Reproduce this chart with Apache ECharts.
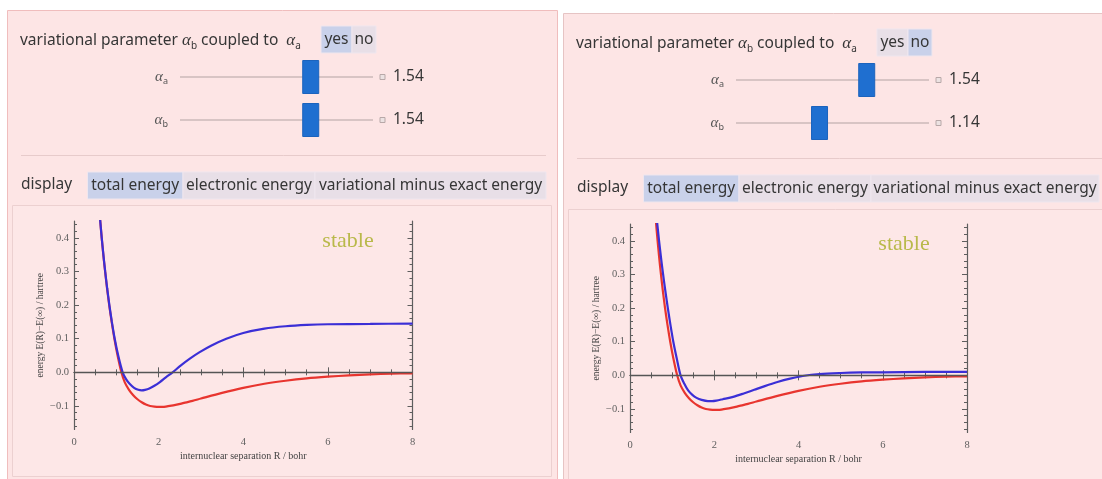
<!DOCTYPE html>
<html><head><meta charset="utf-8">
<script src="https://cdn.jsdelivr.net/npm/echarts@6/dist/echarts.min.js"></script>
<style>html,body{margin:0;padding:0;background:#fff}#c{width:1102px;height:479px}</style>
</head><body><div id="c"></div><script>
// ---------- data ----------
const xTicks = [0, 2, 4, 6, 8];
const yTicks = [-0.1, 0.0, 0.1, 0.2, 0.3, 0.4];
const xTitle = 'internuclear separation R / bohr';
const yTitle = 'energy E(R)\u2212E(\u221e) / hartree';
const statusText = 'stable';

// exact energy (red), same in both panels
const exactR = [0.58,0.62,0.655,0.693,0.735,0.781,0.832,0.89,0.955,1.03,1.12,1.2,1.3,1.4,1.5,1.6,1.7,1.8,1.9,2.0,2.1,2.2,2.4,2.6,2.8,3.0,3.5,4.0,4.5,5.0,5.5,6.0,6.5,7.0,7.5,8.0];
const exactE = [0.51,0.45,0.40,0.35,0.30,0.25,0.20,0.15,0.10,0.05,0.0,-0.030,-0.052,-0.068,-0.080,-0.089,-0.096,-0.100,-0.102,-0.103,-0.103,-0.101,-0.097,-0.091,-0.085,-0.078,-0.061,-0.046,-0.034,-0.025,-0.018,-0.013,-0.009,-0.006,-0.004,-0.003];

// variational energy (blue), left panel: alpha_a = alpha_b = 1.54
const varLeftR = [0.58,0.62,0.655,0.694,0.737,0.784,0.836,0.895,0.962,1.045,1.15,1.23,1.32,1.42,1.52,1.6,1.68,1.78,1.9,2.03,2.17,2.33,2.52,2.73,2.97,3.25,3.6,4.0,4.5,5.0,5.5,6.0,7.0,8.0];
const varLeftE = [0.51,0.45,0.40,0.35,0.30,0.25,0.20,0.15,0.10,0.05,0.0,-0.020,-0.035,-0.046,-0.052,-0.0535,-0.052,-0.048,-0.040,-0.029,-0.015,0.0,0.020,0.040,0.060,0.080,0.100,0.117,0.130,0.137,0.141,0.143,0.144,0.145];

// variational energy (blue), right panel: alpha_a = 1.54, alpha_b = 1.14
const varRightR = [0.61,0.648,0.690,0.736,0.786,0.840,0.898,0.960,1.028,1.11,1.20,1.29,1.38,1.48,1.58,1.7,1.85,1.95,2.05,2.2,2.45,2.7,2.95,3.2,3.5,3.8,4.1,4.5,5.0,5.5,6.0,7.0,8.0];
const varRightE = [0.50,0.45,0.40,0.35,0.30,0.25,0.20,0.15,0.10,0.05,0.0,-0.025,-0.045,-0.058,-0.067,-0.073,-0.0765,-0.0765,-0.075,-0.071,-0.064,-0.054,-0.043,-0.032,-0.020,-0.010,-0.002,0.004,0.007,0.0085,0.009,0.010,0.010];

// controls
const coupledChoice = ['yes', 'no'];
const coupledSelected = ['yes', 'no'];
const alphaA = [1.54, 1.54];
const alphaB = [1.54, 1.14];
const sliderRange = [0.5, 2.0];
const displayChoices = ['total energy', 'electronic energy', 'variational minus exact energy'];
const displaySelected = 'total energy';

// ---------- helpers ----------
const zip = (a, b) => a.map((v, i) => [v, b[i]]);
const UI_FONT = '"Noto Sans", "Open Sans", sans-serif';
const SERIF = '"Liberation Serif", "DejaVu Serif", serif';
const TXT = '#363636';
const SEL = '#c9d1ea';
const UNSEL = '#e8dfe7';
const PINK = '#fde5e5';
const FS = '15.5px ';

function txt(x, y, text, extra) {
  return {
    type: 'text', x: x, y: y, z: 5,
    style: Object.assign({
      text: text, font: FS + UI_FONT, fill: TXT,
      align: 'left', verticalAlign: 'middle',
      textAlign: 'left', textVerticalAlign: 'middle'
    }, extra || {})
  };
}
function alphaRich(sub) {
  return '{g|\u03b1}{s|' + sub + '}';
}
const alphaRichStyles = {
  t: { font: FS + UI_FONT, fill: TXT, lineHeight: 22 },
  g: { font: 'italic 17px ' + SERIF, fill: TXT, lineHeight: 22 },
  s: { font: '10px ' + UI_FONT, fill: TXT, verticalAlign: 'bottom', padding: [0, 0, 1, 0] }
};
const alphaRichGrey = {
  g: { font: 'italic 15px ' + SERIF, fill: '#555', lineHeight: 20 },
  s: { font: '9px ' + UI_FONT, fill: '#555', verticalAlign: 'bottom', padding: [0, 0, 1, 0] }
};
function rect(x, y, w, h, fill, stroke, z) {
  return { type: 'rect', z: z == null ? 4 : z, shape: { x: x, y: y, width: w, height: h },
    style: { fill: fill, stroke: stroke || null, lineWidth: 1 } };
}
function line(x1, y1, x2, y2, color, w, z) {
  return { type: 'line', z: z == null ? 4 : z, shape: { x1: x1, y1: y1, x2: x2, y2: y2 },
    style: { stroke: color, lineWidth: w || 1 } };
}

function panelUI(i, dx, dy) {
  const els = [];
  els.push({
    type: 'text', x: 20 + dx, y: 41 + dy, z: 5,
    style: {
      text: '{t|variational parameter }' + alphaRich('b') + '{t| coupled to  }' + alphaRich('a'),
      rich: alphaRichStyles, align: 'left', verticalAlign: 'middle',
      textAlign: 'left', textVerticalAlign: 'middle'
    }
  });
  const bx = [321 + dx, 352 + dx, 376 + dx];
  coupledChoice.forEach((c, k) => {
    els.push(rect(bx[k], 26 + dy, bx[k + 1] - bx[k], 27, c === coupledSelected[i] ? SEL : UNSEL, '#efe6ee'));
    els.push(txt((bx[k] + bx[k + 1]) / 2, 40 + dy, c, { align: 'center', textAlign: 'center' }));
  });
  const rows = [[alphaA[i], 'a', 77], [alphaB[i], 'b', 120]];
  rows.forEach(([v, sub, y]) => {
    const yy = y + dy;
    els.push({
      type: 'text', x: 168 + dx, y: yy, z: 5,
      style: { text: alphaRich(sub), rich: alphaRichGrey, align: 'right', verticalAlign: 'middle',
        textAlign: 'right', textVerticalAlign: 'middle' }
    });
    els.push(line(180 + dx, yy, 373 + dx, yy, '#d8c4c4', 2));
    const cx = 188 + dx + (v - sliderRange[0]) / (sliderRange[1] - sliderRange[0]) * 177;
    els.push(rect(cx - 8, yy - 16.5, 16, 33, '#1f6fd0', '#1b63bd', 6));
    els.push(rect(380 + dx, yy - 2.5, 5, 5, '#ece2e2', '#b8a8a8'));
    els.push(txt(393 + dx, yy, v.toFixed(2)));
  });
  els.push(line(21 + dx, 155.5 + dy, i === 0 ? 546 : 1102, 155.5 + dy, '#e7cbcb', 1));
  els.push(txt(21 + dx, 185 + dy, 'display'));
  const dxs = [87.5 + dx, 183 + dx, 315 + dx, (i === 0 ? 546 : 543) + dx];
  displayChoices.forEach((c, k) => {
    els.push(rect(dxs[k], 172 + dy, dxs[k + 1] - dxs[k], 27, c === displaySelected ? SEL : UNSEL, '#efe6ee'));
    els.push(txt((dxs[k] + dxs[k + 1]) / 2, 186 + dy, c, { align: 'center', textAlign: 'center' }));
  });
  els.push(txt(348 + dx, 241 + dy, statusText, {
    font: '22px ' + SERIF, fill: '#b9b94a', align: 'center', textAlign: 'center'
  }));
  return els;
}

const graphics = [
  rect(7.5, 10.5, 550, 480, PINK, '#f0bdbd', -10),
  rect(563.5, 13.5, 560, 480, PINK, '#e6c4c4', -10),
  rect(12.5, 205.5, 539, 271, '#fde7e7', '#ecd0d0', -9),
  rect(568.5, 209.5, 560, 272, '#fde7e7', '#ecd0d0', -9)
].concat(panelUI(0, 0, 0), panelUI(1, 556, 3));

// ---------- axes ----------
const AX = '#5e5e5e';
const labelStyle = { fontFamily: SERIF, fontSize: 10.5, color: '#606060' };
const yMinor = [];
for (let k = -8; k <= 22; k++) if (k % 5 !== 0) yMinor.push(k * 0.02);
const yFmt = v => (Math.abs(v) < 1e-9 ? 0 : v).toFixed(1).replace('-', '\u2212');

function xAxes(g) {
  const base = {
    type: 'value', gridIndex: g, min: 0, max: 8, interval: 2,
    axisLine: { show: true, lineStyle: { color: AX, width: 1.2 } },
    axisTick: { show: true, inside: true, length: 5, lineStyle: { color: AX } },
    minorTick: { show: true, splitNumber: 4, length: 3, lineStyle: { color: AX } },
    splitLine: { show: false }, minorSplitLine: { show: false }
  };
  return [
    Object.assign({}, base, {
      position: 'bottom',
      axisLabel: Object.assign({ show: true, margin: 7, customValues: xTicks }, labelStyle),
      name: xTitle, nameLocation: 'middle', nameGap: 22,
      nameTextStyle: { fontFamily: SERIF, fontSize: 10, color: '#444' }
    }),
    Object.assign({}, base, { position: 'top', axisLabel: { show: false } })
  ];
}
function yAxes(g) {
  const base = {
    type: 'value', gridIndex: g, min: -0.17, max: 0.45,
    splitLine: { show: false }
  };
  return [
    Object.assign({}, base, {
      position: 'left',
      axisLine: { show: true, lineStyle: { color: AX, width: 1.2 } },
      axisTick: { show: true, inside: true, length: 5, customValues: yTicks, lineStyle: { color: AX } },
      axisLabel: Object.assign({ show: true, margin: 5, customValues: yTicks, formatter: yFmt }, labelStyle),
      name: yTitle, nameLocation: 'middle', nameRotate: 90, nameGap: 29,
      nameTextStyle: { fontFamily: SERIF, fontSize: 9.5, color: '#444' }
    }),
    Object.assign({}, base, {
      position: 'left', axisLine: { show: false }, axisLabel: { show: false },
      axisTick: { show: true, inside: true, length: 3, customValues: yMinor, lineStyle: { color: AX } }
    }),
    Object.assign({}, base, {
      position: 'right',
      axisLine: { show: true, lineStyle: { color: AX, width: 1.2 } },
      axisLabel: { show: false },
      axisTick: { show: true, inside: true, length: 5, customValues: yTicks, lineStyle: { color: AX } }
    }),
    Object.assign({}, base, {
      position: 'right', axisLine: { show: false }, axisLabel: { show: false },
      axisTick: { show: true, inside: true, length: 3, customValues: yMinor, lineStyle: { color: AX } }
    })
  ];
}

function curve(name, data, g, color) {
  return {
    name: name, type: 'line', xAxisIndex: g * 2, yAxisIndex: g * 4,
    data: data, showSymbol: false, smooth: 0.3, clip: true,
    lineStyle: { color: color, width: 2.2 }, itemStyle: { color: color }, animation: false, z: 3
  };
}
function zeroLine(g) {
  return {
    type: 'line', xAxisIndex: g * 2, yAxisIndex: g * 4, data: [], animation: false,
    markLine: { silent: true, symbol: 'none', label: { show: false },
      lineStyle: { color: '#555', width: 1.3, type: 'solid' }, data: [{ yAxis: 0 }] }
  };
}

const option = {
  animation: false,
  backgroundColor: '#ffffff',
  graphic: { elements: graphics },
  grid: [
    { left: 74, top: 221, width: 338.5, height: 208.5 },
    { left: 630, top: 224, width: 337, height: 208.5 }
  ],
  xAxis: xAxes(0).concat(xAxes(1)),
  yAxis: yAxes(0).concat(yAxes(1)),
  series: [
    zeroLine(0),
    curve('exact', zip(exactR, exactE), 0, '#e8352f'),
    curve('variational', zip(varLeftR, varLeftE), 0, '#3b2fd6'),
    zeroLine(1),
    curve('exact', zip(exactR, exactE), 1, '#e8352f'),
    curve('variational', zip(varRightR, varRightE), 1, '#3b2fd6')
  ]
};
const chart = echarts.init(document.getElementById('c'), null, { renderer: 'canvas' });
chart.setOption(option);
</script></body></html>
